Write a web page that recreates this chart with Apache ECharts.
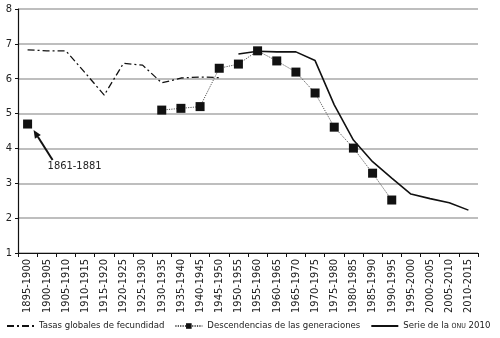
<!DOCTYPE html>
<html><head><meta charset="utf-8">
<script src="https://cdn.jsdelivr.net/npm/echarts@6/dist/echarts.min.js"></script>
<style>html,body{margin:0;padding:0;background:#fff}#c{width:500px;height:338px}</style>
</head><body><div id="c"></div>
<script>
const categories = ['1895-1900','1900-1905','1905-1910','1910-1915','1915-1920','1920-1925','1925-1930','1930-1935','1935-1940','1940-1945','1945-1950','1950-1955','1955-1960','1960-1965','1965-1970','1970-1975','1975-1980','1980-1985','1985-1990','1990-1995','1995-2000','2000-2005','2005-2010','2010-2015'];
const tasasGlobales = [6.83,6.8,6.8,6.17,5.53,6.44,6.39,5.88,6.02,6.05,6.03,null,null,null,null,null,null,null,null,null,null,null,null,null];
const descendencias = [4.7,null,null,null,null,null,null,5.1,5.15,5.2,6.3,6.42,6.8,6.51,6.19,5.59,4.61,4.01,3.29,2.52,null,null,null,null];
const serieOnu = [null,null,null,null,null,null,null,null,null,null,null,6.71,6.79,6.77,6.77,6.52,5.25,4.24,3.62,3.15,2.69,2.56,2.44,2.23];
const yTicks = [1,2,3,4,5,6,7,8];
const annotation = {label:'1861-1881', category:0, value:4.7};

const FONT = '"Liberation Sans Narrow", "DejaVu Sans Condensed", sans-serif';
const hidden = {color:'rgba(0,0,0,0)', borderWidth:0};
const chart = echarts.init(document.getElementById('c'), null, {renderer:'canvas'});
chart.setOption({
  animation:false,
  textStyle:{fontFamily:FONT},
  grid:{left:18,right:22,top:9,bottom:85,containLabel:false},
  legend:{
    left:1, top:316, itemWidth:27, itemHeight:7, itemGap:10,
    textStyle:{fontFamily:FONT,fontSize:9.5,color:'#1a1a1a',
      rich:{sc:{fontFamily:FONT,fontSize:7,color:'#1a1a1a'}}},
    formatter: n => n.replace('ONU','{sc|ONU}'),
    data:[
      {name:'Tasas globales de fecundidad', itemStyle:hidden},
      {name:'Descendencias de las generaciones'},
      {name:'Serie de la ONU 2010', itemStyle:hidden}
    ]
  },
  xAxis:{
    type:'category', data:categories, boundaryGap:true,
    axisLine:{lineStyle:{color:'#111',width:1.2}},
    axisTick:{show:true,length:4,lineStyle:{color:'#111'}},
    axisLabel:{rotate:90,fontSize:11,color:'#222',margin:6,fontFamily:FONT,interval:0}
  },
  yAxis:{
    type:'value', min:yTicks[0], max:yTicks[yTicks.length-1], interval:1,
    axisLine:{show:true,lineStyle:{color:'#111',width:1.2}},
    axisTick:{show:true,length:3,lineStyle:{color:'#111'}},
    axisLabel:{fontSize:11,color:'#222',margin:6,fontFamily:FONT},
    splitLine:{lineStyle:{color:'#a8a8a8',width:1.5}}
  },
  series:[
    {name:'Tasas globales de fecundidad',type:'line',data:tasasGlobales,
     symbol:'none',connectNulls:false,
     lineStyle:{color:'#111',width:1.3,type:[7,3,2,3]},itemStyle:{color:'#111'}},
    {name:'Descendencias de las generaciones',type:'line',data:descendencias,
     symbol:'rect',symbolSize:9,connectNulls:false,
     lineStyle:{color:'#555',width:1,type:[1.2,1.2]},itemStyle:{color:'#111'}},
    {name:'Serie de la ONU 2010',type:'line',data:serieOnu,
     symbol:'none',connectNulls:false,
     lineStyle:{color:'#111',width:1.6},itemStyle:{color:'#111'}}
  ]
});

// annotation arrow anchored on the data point
const p = chart.convertToPixel({xAxisIndex:0,yAxisIndex:0},[annotation.category, annotation.value]);
const hx = p[0]+6, hy = p[1]+6, tx = p[0]+25, ty = p[1]+36;
const ang = Math.atan2(hy-ty, hx-tx);
const L = 8, W = 3.5;
const bx = hx - L*Math.cos(ang), by = hy - L*Math.sin(ang);
const nx = -Math.sin(ang), ny = Math.cos(ang);
chart.setOption({graphic:[
  {type:'line',shape:{x1:tx,y1:ty,x2:bx,y2:by},style:{stroke:'#111',lineWidth:2}},
  {type:'polygon',shape:{points:[[hx,hy],[bx+nx*W,by+ny*W],[bx-nx*W,by-ny*W]]},style:{fill:'#111'}},
  {type:'text',left:p[0]+20,top:p[1]+37,style:{text:annotation.label,font:'11px '+FONT,fill:'#222'}}
]});
</script></body></html>
